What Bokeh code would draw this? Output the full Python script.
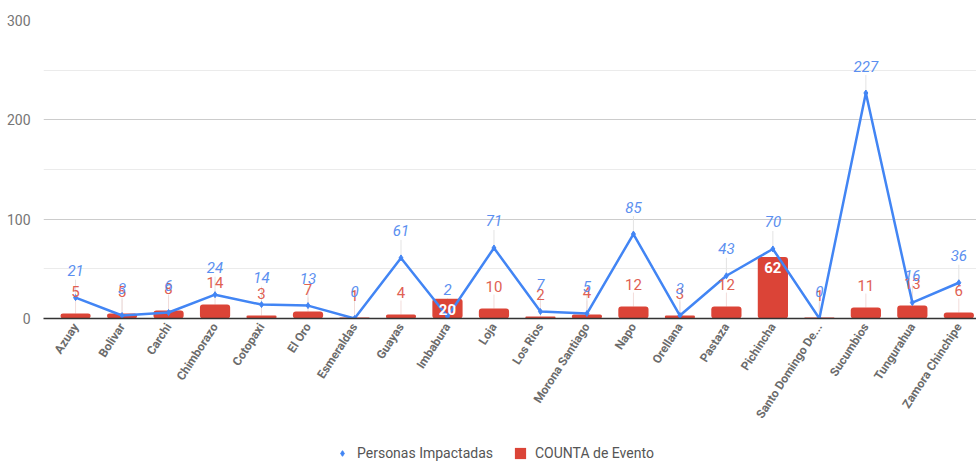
import math
from bokeh.plotting import figure
from bokeh.layouts import column
from bokeh.core.properties import value
from bokeh.models import (ColumnDataSource, Range1d, FixedTicker, LabelSet, Legend, LegendItem)
from bokeh.embed import file_html
from bokeh.resources import INLINE

categories = ["Azuay", "Bolivar", "Carchi", "Chimborazo", "Cotopaxi", "El Oro", "Esmeraldas",
              "Guayas", "Imbabura", "Loja", "Los Rios", "Morona Santiago", "Napo", "Orellana",
              "Pastaza", "Pichincha", "Santo Domingo De...", "Sucumbios", "Tungurahua",
              "Zamora Chinchipe"]
personas = [21, 3, 6, 24, 14, 13, 0, 61, 2, 71, 7, 5, 85, 3, 43, 70, 0, 227, 16, 36]
eventos = [5, 5, 8, 14, 3, 7, 1, 4, 20, 10, 2, 4, 12, 3, 12, 62, 1, 11, 13, 6]
series_names = ["Personas Impactadas", "COUNTA de Evento"]
inside_labels = ["Imbabura", "Pichincha"]
y_ticks = [0, 100, 200, 300]
y_minor = [50, 150, 250]

BLUE = "#4285f4"
RED = "#db4437"
FONT = "Roboto"

TOP = 20
LEFT = 43
FRAME_W = 933
FRAME_H = 298
BOTTOM = 124
upp = 300 / FRAME_H  # data units per pixel

xs = list(range(len(categories)))
src = ColumnDataSource(dict(
    x=xs, cat=categories, p=personas, e=eventos,
    pt=[str(v) for v in personas],
    p_stem=[v + 18 * upp for v in personas],
))
out_idx = [i for i, c in enumerate(categories) if c not in inside_labels]
in_idx = [i for i, c in enumerate(categories) if c in inside_labels]
src_out = ColumnDataSource(dict(x=[xs[i] for i in out_idx], e=[eventos[i] for i in out_idx],
                                et=[str(eventos[i]) for i in out_idx],
                                e_stem=[eventos[i] + 14 * upp for i in out_idx]))
src_in = ColumnDataSource(dict(x=[xs[i] for i in in_idx], e=[eventos[i] for i in in_idx],
                               et=[str(eventos[i]) for i in in_idx]))

p = figure(frame_width=FRAME_W, frame_height=FRAME_H,
           output_backend="svg", toolbar_location=None,
           x_range=Range1d(-0.69, 19.38), y_range=Range1d(0, 300),
           min_border_left=LEFT, min_border_right=0, min_border_top=TOP,
           min_border_bottom=BOTTOM)
p.outline_line_color = None
p.background_fill_color = "white"

# stems
p.segment(x0="x", y0="p", x1="x", y1="p_stem", source=src, line_color="#e3e3e3", line_width=1)
p.segment(x0="x", y0="e", x1="x", y1="e_stem", source=src_out, line_color="#f2dcda", line_width=1)

p.vbar(x="x", top="e", width=0.65, source=src, fill_color=RED, line_color=None,
       border_radius=3)
p.line(x="x", y="p", source=src, line_color=BLUE, line_width=2.5)
p.scatter(x="x", y="p", source=src, marker="diamond", size=6, fill_color=BLUE,
          line_color=BLUE)

lab_out = LabelSet(x="x", y="e", text="et", source=src_out, y_offset=22,
                   text_align="center", text_baseline="middle", text_color="#e06153",
                   text_font=value(FONT), text_font_size="15px")
lab_in = LabelSet(x="x", y="e", text="et", source=src_in, y_offset=-11,
                  text_align="center", text_baseline="middle", text_color="white",
                  text_font=value(FONT), text_font_size="15px", text_font_style="bold")
lab_p = LabelSet(x="x", y="p", text="pt", source=src, y_offset=27,
                 text_align="center", text_baseline="middle", text_color="#5b8ff0",
                 text_font=value(FONT), text_font_size="15px", text_font_style="italic")
p.add_layout(lab_out)
p.add_layout(lab_in)
p.add_layout(lab_p)

# axes
p.yaxis.ticker = FixedTicker(ticks=y_ticks, minor_ticks=y_minor)
p.yaxis.axis_line_color = None
p.yaxis.major_tick_line_color = None
p.yaxis.minor_tick_line_color = None
p.yaxis.major_label_text_font = FONT
p.yaxis.major_label_text_font_size = "14px"
p.yaxis.major_label_text_color = "#757575"
p.yaxis.major_label_standoff = 7

p.xaxis.ticker = FixedTicker(ticks=xs)
p.xaxis.major_label_overrides = {i: c for i, c in enumerate(categories)}
p.xaxis.major_label_orientation = math.radians(57)
p.xaxis.axis_line_color = "#333333"
p.xaxis.axis_line_width = 1.5
p.xaxis.major_tick_line_color = None
p.xaxis.minor_tick_line_color = None
p.xaxis.major_tick_out = 0
p.xaxis.major_tick_in = 0
p.xaxis.major_label_text_font = FONT
p.xaxis.major_label_text_font_size = "12px"
p.xaxis.major_label_text_font_style = "bold"
p.xaxis.major_label_text_color = "#6b6b6b"
p.xaxis.major_label_standoff = 6

p.xgrid.grid_line_color = None
p.ygrid.grid_line_color = "#cccccc"
p.ygrid.minor_grid_line_color = "#ebebeb"

# legend strip below the chart (its renderers use the series data, scrolled out of view)
lf = figure(width=LEFT + FRAME_W, height=20, output_backend="svg", toolbar_location=None,
            x_range=Range1d(100, 101), y_range=Range1d(1000, 1001),
            x_axis_location=None, y_axis_location=None, min_border=0)
lf.outline_line_color = None
lf.grid.visible = False
leg_pts = lf.scatter(x="x", y="p", source=src, marker="diamond", size=12,
                     fill_color=BLUE, line_color=BLUE)
leg_bar = lf.vbar(x="x", top="e", width=0.5, source=src, fill_color=RED, line_color=None)
legend = Legend(items=[LegendItem(label=series_names[0], renderers=[leg_pts]),
                       LegendItem(label=series_names[1], renderers=[leg_bar])],
                orientation="horizontal", location=(292, 1),
                label_text_font=FONT, label_text_font_size="14px", label_text_color="#555555",
                glyph_width=14, glyph_height=14, spacing=20, label_standoff=8,
                border_line_color=None, padding=2, margin=0, background_fill_alpha=0)
lf.add_layout(legend)

layout = column(p, lf, spacing=0)
open("out.html", "w").write(file_html(layout, INLINE))
